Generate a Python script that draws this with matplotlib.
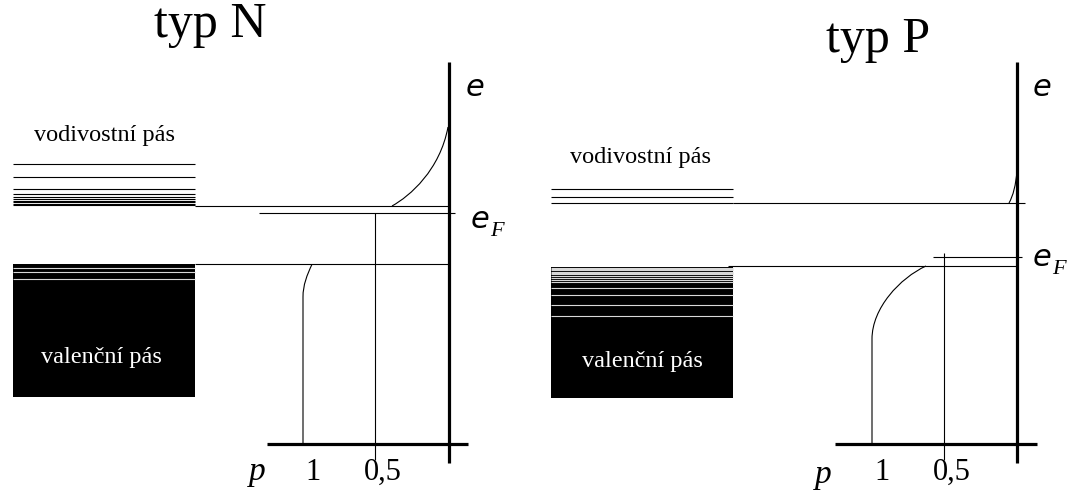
import matplotlib
matplotlib.use("Agg")
import matplotlib.pyplot as plt
from matplotlib.patches import Rectangle
from matplotlib.path import Path
from matplotlib.patches import PathPatch

# ---------------- data (pixel-space diagram coordinates) ----------------
titles = ["typ N", "typ P"]
band_labels = ["vodivostní pás", "valenční pás"]
tick_labels = ["1", "0,5"]
axis_labels = ["e", "p"]

# conduction band level lines (y)
left_cb_levels = [164, 177.3, 189.3, 194.3, 196.7, 198.7, 200.7, 202.3, 204, 205.3]
right_cb_levels = [189, 197.3, 203]
# white lines inside the valence band (y)
left_vb_lines = [267.7, 272.3, 279.3]
right_vb_lines = [267.6, 269, 270.3, 271.7, 273, 274.4, 276, 278, 280, 282,
                  288, 295.3, 304.7, 316]

# band edges / fermi levels
left_cb_edge, left_vb_edge, left_ef = 206, 264.3, 212.7
right_cb_edge, right_vb_edge, right_ef = 203, 266, 256.7

# distribution curves (cubic bezier control points)
left_upper_curve = [(392, 206), (410, 196), (440, 170), (448, 127)]
left_lower_curve = [(312, 264.3), (307, 275), (303, 285), (303, 297), (303, 444)]
right_upper_curve = [(1009, 203), (1013, 196), (1016, 185), (1017, 170)]
right_lower_curve = [(926, 266), (900, 278), (872, 308), (872, 339), (872, 444)]

W, H = 1067, 493
fig = plt.figure(figsize=(W / 100, H / 100), dpi=100)
ax = fig.add_axes([0, 0, 1, 1])
ax.set_xlim(0, W)
ax.set_ylim(H, 0)
ax.axis("off")

SERIF = "Liberation Serif"
thin = 0.8
thick = 2.3


def hline(y, x0, x1, lw=thin, color="black"):
    ax.plot([x0, x1], [y, y], color=color, lw=lw, solid_capstyle="butt")


def vline(x, y0, y1, lw=thin, color="black"):
    ax.plot([x, x], [y0, y1], color=color, lw=lw, solid_capstyle="butt")


def curve(pts):
    codes = [Path.MOVETO, Path.CURVE4, Path.CURVE4, Path.CURVE4] + [Path.LINETO] * (len(pts) - 4)
    ax.add_patch(PathPatch(Path(pts, codes), fill=False, lw=thin, ec="black"))


def panel(x_band0, x_band1, cb_levels, vb_top, vb_bottom, vb_lines, cb_edge, vb_edge,
          ef, ef_x0, ef_x1, axis_x, half_x, p_axis_x0, p_axis_x1, one_x,
          upper, lower, title, title_xy, vod_xy, val_xy, cb_edge_x0, cb_edge_x1,
          vb_edge_x0, e_xy, ef_xy, p_xy, half_top):
    # conduction band
    for y in cb_levels:
        hline(y, x_band0, x_band1)
    # valence band
    ax.add_patch(Rectangle((x_band0, vb_top), x_band1 - x_band0, vb_bottom - vb_top,
                           color="black", lw=0))
    for y in vb_lines:
        hline(y, x_band0, x_band1, lw=0.8, color="#d8d8d8")
    # band edge lines
    hline(cb_edge, cb_edge_x0, cb_edge_x1)
    hline(vb_edge, vb_edge_x0, axis_x)
    hline(ef, ef_x0, ef_x1)
    # axes
    vline(axis_x, 62, 463, lw=thick)
    hline(444, p_axis_x0, p_axis_x1, lw=thick)
    vline(half_x, half_top, 460)
    # curves
    curve(upper)
    curve(lower)
    # texts
    ax.text(*title_xy, title, family=SERIF, fontsize=36, ha="center", va="center")
    ax.text(*vod_xy, band_labels[0], family=SERIF, fontsize=17.5, ha="center", va="center")
    ax.text(*val_xy, band_labels[1], family=SERIF, fontsize=17.5, ha="center", va="center",
            color="white")
    ax.text(*e_xy, axis_labels[0], family="DejaVu Sans", style="italic", fontsize=22,
            ha="center", va="center")
    ax.text(ef_xy[0], ef_xy[1], axis_labels[0], family="DejaVu Sans", style="italic",
            fontsize=22, ha="center", va="center")
    ax.text(ef_xy[0] + 17, ef_xy[1] + 12, "F", family=SERIF, style="italic",
            fontsize=16, ha="center", va="center")
    ax.text(*p_xy, axis_labels[1], family=SERIF, style="italic", fontsize=24,
            ha="center", va="center")
    ax.text(one_x, 472, tick_labels[0], family=SERIF, fontsize=22, ha="center", va="center")
    ax.text(half_x + 8, 472, tick_labels[1], family=SERIF, fontsize=22, ha="center",
            va="center")


panel(13, 195, left_cb_levels, 264.3, 397, left_vb_lines, left_cb_edge, left_vb_edge,
      left_ef, 259, 455, 449, 375, 267, 468, 313,
      left_upper_curve, left_lower_curve, titles[0], (210, 25), (104, 136), (101, 357),
      195, 449, 195, (475, 88), (480, 219), (257, 472), left_ef)

panel(551, 733, right_cb_levels, 266.8, 398, right_vb_lines, right_cb_edge, right_vb_edge,
      right_ef, 933, 1022, 1017, 944, 835, 1037, 882,
      right_upper_curve, right_lower_curve, titles[1], (878, 40), (641, 157), (642, 362),
      733, 1025, 728, (1042, 88), (1042, 258), (823, 475), 253)

fig.savefig("out.png", dpi=100)
